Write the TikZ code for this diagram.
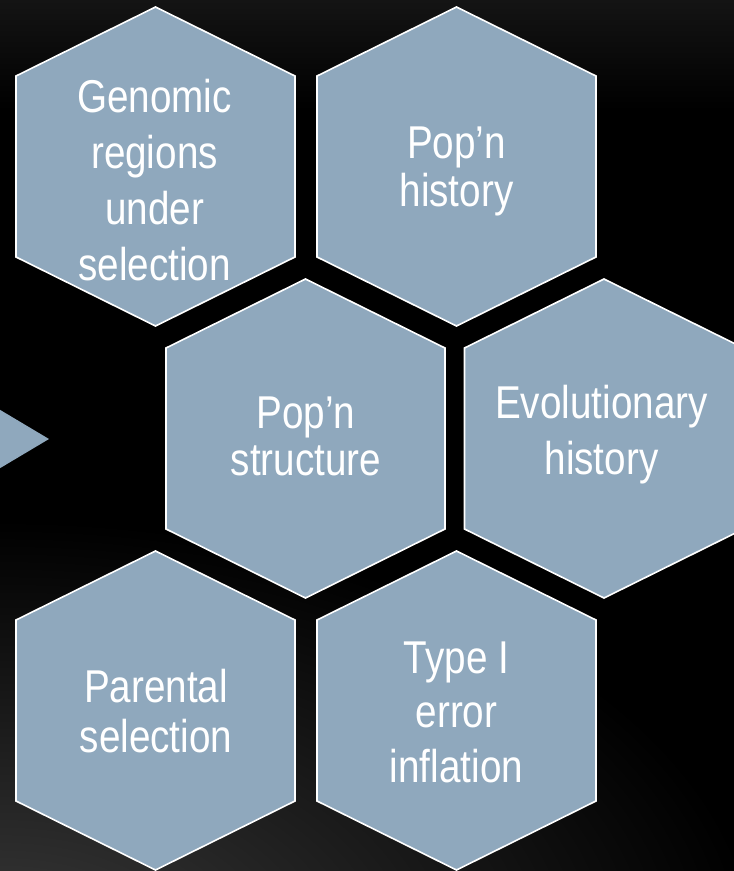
\documentclass[tikz,border=0pt]{standalone}
\usepackage{fontspec}
\setmainfont{Liberation Sans}[FakeStretch=0.84]
\definecolor{hexfill}{RGB}{143,168,189}
\definecolor{topgray}{RGB}{20,20,20}
\definecolor{glowgray}{RGB}{58,58,58}
\tikzset{
  hexcell/.style={fill=hexfill, draw=white, line width=1.6pt, line join=miter},
  hexlabel/.style={text=white, inner sep=0pt, anchor=base, align=center},
}
\newcommand\drawhex[2]{%
  \draw[hexcell] (#1,#2) ++(0,-159.5) -- ++(139.5,69) -- ++(0,181)
    -- ++(-139.5,69) -- ++(-139.5,-69) -- ++(0,-181) -- cycle;}
\begin{document}
\begin{tikzpicture}[x=1pt,y=-1pt]
  \useasboundingbox (0,0) rectangle (734,871);
  \clip (0,0) rectangle (734,871);
  % background
  \fill[black] (0,0) rectangle (734,871);
  \shade[top color=topgray, bottom color=black] (0,0) rectangle (734,110);
  \shade[inner color=glowgray, outer color=black] (0,960) ellipse (760 and 440);
  % arrow tip at left
  \fill[hexfill] (-40,386) -- (49,439) -- (-40,492) -- cycle;
  % hexagons
  \drawhex{155.5}{166.5}
  \drawhex{456.5}{166.5}
  \drawhex{305.5}{438.5}
  \drawhex{604}{438.5}
  \drawhex{155.5}{710.5}
  \drawhex{456.5}{710.5}
  % labels
  \node[hexlabel, font={\fontsize{46}{56}\selectfont}] (genomic) at (154.5,280)
    {Genomic\\regions\\under\\selection};
  \node[hexlabel, font={\fontsize{46}{48}\selectfont}] (pophist) at (456.5,206)
    {Pop’n\\history};
  \node[hexlabel, font={\fontsize{46}{47}\selectfont}] (popstruct) at (306,475)
    {Pop’n\\structure};
  \node[hexlabel, font={\fontsize{46}{56}\selectfont}] (evol) at (601.5,474)
    {Evolutionary\\history};
  \node[hexlabel, font={\fontsize{46}{50}\selectfont}] (parental) at (156,752)
    {Parental\\selection};
  \node[hexlabel, font={\fontsize{46}{54.5}\selectfont}] (typeone) at (456.5,782)
    {Type I\\error\\inflation};
\end{tikzpicture}
\end{document}
